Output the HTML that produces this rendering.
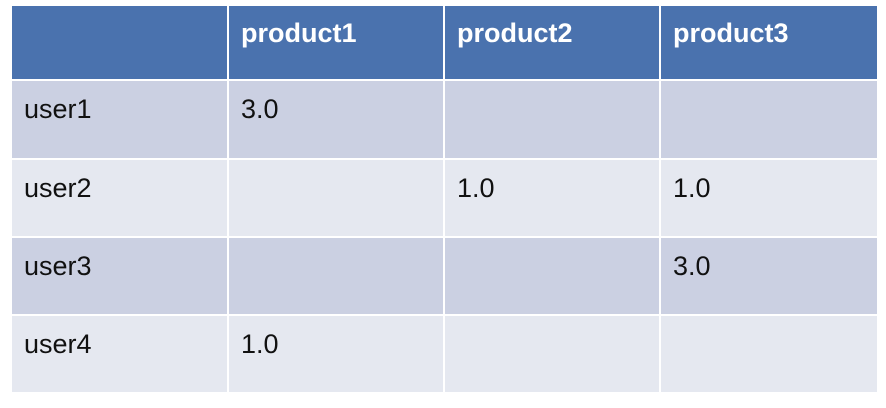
<!DOCTYPE html>
<html><head><meta charset="utf-8"><style>
body{margin:0;width:886px;height:408px;background:#fff;position:relative;overflow:hidden;font-family:"Liberation Sans",sans-serif}
.c{position:absolute;box-sizing:border-box;padding:13px 0 0 12px;font-size:27px;color:#111}
.h{background:#4a72ae;color:#fff;font-weight:bold;padding-top:12px}
.o{background:#cbd0e2}.e{background:#e5e8f0}
</style></head><body>
<div id="t"></div>
<script>
const cols=['','product1','product2','product3'];
const rows=['user1','user2','user3','user4'];
const vals=[['3.0','',''],['','1.0','1.0'],['','','3.0'],['1.0','','']];
const xs=[12,229,445,661,877], ys=[6,81,160,238,316,392];
const t=document.getElementById('t');
function cell(r,c,txt,cls){const d=document.createElement('div');d.className='c '+cls;
d.style.left=xs[c]+'px';d.style.top=ys[r]+'px';
d.style.width=(xs[c+1]-xs[c]-(c<3?2:0))+'px';d.style.height=(ys[r+1]-ys[r]-(r<4?2:0))+'px';
d.textContent=txt;return d;}
for(let c=0;c<4;c++){const d=cell(0,c,cols[c],'h');

t.appendChild(d);}
for(let r=0;r<4;r++){const cls=r%2?'e':'o';
const d=cell(r+1,0,rows[r],cls);

t.appendChild(d);
for(let c=0;c<3;c++){const e=cell(r+1,c+1,vals[r][c],cls);

t.appendChild(e);}}
</script>
</body></html>
